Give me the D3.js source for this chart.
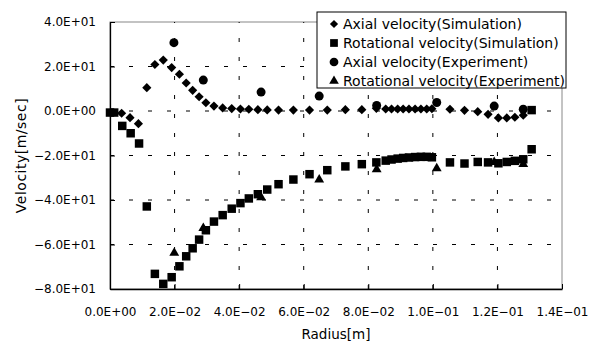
<!DOCTYPE html>
<html>
<head>
<meta charset="utf-8">
<script src="https://cdn.jsdelivr.net/npm/d3@7"></script>
<style>
  body { margin: 0; background: #fff; }
  svg { font-family: "DejaVu Sans", "Liberation Sans", Arial, sans-serif; }
</style>
</head>
<body>
<svg id="chart"></svg>
<script>
// radius [m] / velocity [m/sec]
const axialSimR = [0.0036, 0.0062, 0.0088, 0.0114, 0.0139, 0.0165, 0.0191, 0.0215, 0.0236, 0.0256,
  0.0276, 0.0297, 0.0322, 0.0349, 0.0377, 0.0404, 0.0430, 0.0458, 0.0487, 0.0522,
  0.0568, 0.0618, 0.0673, 0.0729, 0.0780, 0.0825, 0.0854, 0.0872, 0.0891, 0.0908,
  0.0926, 0.0945, 0.0963, 0.0981, 0.0997, 0.1053, 0.1098, 0.1139, 0.1171, 0.1203,
  0.1229, 0.1254, 0.1280];
const axialSimV = [-1.0, -3.0, -5.7, 10.5, 20.9, 22.9, 19.5, 16.5, 12.6, 9.3,
  6.4, 3.7, 2.2, 1.4, 1.1, 0.9, 0.8, 0.6, 0.5, 0.4,
  0.4, 0.4, 0.4, 0.6, 0.6, 1.2, 0.9, 0.9, 0.9, 0.9,
  0.9, 0.9, 0.9, 0.9, 1.0, 0.8, 0.3, -0.3, -1.5, -3.1,
  -3.1, -2.8, -1.9];

const rotSimR = [0.0, 0.0013, 0.0038, 0.0064, 0.0090, 0.0114, 0.0139, 0.0165, 0.0191, 0.0215,
  0.0236, 0.0256, 0.0276, 0.0297, 0.0322, 0.0349, 0.0377, 0.0404, 0.0430, 0.0458,
  0.0487, 0.0522, 0.0568, 0.0618, 0.0673, 0.0729, 0.0780, 0.0825, 0.0854, 0.0872,
  0.0891, 0.0908, 0.0926, 0.0945, 0.0963, 0.0981, 0.0997, 0.1053, 0.1098, 0.1139,
  0.1171, 0.1203, 0.1229, 0.1254, 0.1280, 0.1306, 0.1306];
const rotSimV = [-0.7, -0.7, -6.7, -10.0, -14.6, -42.9, -73.2, -77.7, -74.7, -69.8,
  -65.3, -61.7, -57.8, -53.6, -49.7, -46.8, -43.9, -41.4, -39.3, -37.4,
  -35.3, -32.9, -30.8, -28.4, -26.6, -24.9, -23.9, -23.1, -22.3, -21.8,
  -21.4, -21.1, -20.9, -20.7, -20.6, -20.6, -20.8, -23.1, -23.6, -22.9,
  -23.1, -23.5, -22.9, -22.4, -21.7, -17.2, 0.4];

const axialExpR = [0.0198, 0.0289, 0.0468, 0.0648, 0.0826, 0.1012, 0.1190, 0.1280];
const axialExpV = [30.7, 13.9, 8.5, 6.7, 2.5, 3.8, 2.2, 0.8];

const rotExpR = [0.0199, 0.0289, 0.0468, 0.0648, 0.0826, 0.1012, 0.1190, 0.1280];
const rotExpV = [-63.8, -52.7, -38.8, -30.9, -26.3, -25.8, -23.0, -23.9];

const seriesNames = ["Axial velocity(Simulation)", "Rotational velocity(Simulation)",
  "Axial velocity(Experiment)", "Rotational velocity(Experiment)"];

const xTicks = [0, 0.02, 0.04, 0.06, 0.08, 0.10, 0.12, 0.14];
const xTickLabels = ["0.0E+00", "2.0E\u221202", "4.0E\u221202", "6.0E\u221202", "8.0E\u221202",
  "1.0E\u221201", "1.2E\u221201", "1.4E\u221201"];
const yTicks = [40, 20, 0, -20, -40, -60, -80];
const yTickLabels = ["4.0E+01", "2.0E+01", "0.0E+00", "\u22122.0E+01", "\u22124.0E+01",
  "\u22126.0E+01", "\u22128.0E+01"];

const width = 589, height = 343;
const margin = { top: 22, right: 27, bottom: 54, left: 110 };
const innerW = width - margin.left - margin.right;
const innerH = height - margin.top - margin.bottom;
const fontFamily = '"DejaVu Sans", "Liberation Sans", Arial, sans-serif';

const svg = d3.select("#chart").attr("width", width).attr("height", height);
const chart = svg.append("g").attr("transform", `translate(${margin.left},${margin.top})`);

const xScale = d3.scaleLinear().domain([0, 0.14]).range([0, innerW]);
const yScale = d3.scaleLinear().domain([-80, 40]).range([innerH, 0]);

// plot area frame (gray top/right like Excel)
chart.append("rect")
  .attr("width", innerW).attr("height", innerH)
  .attr("fill", "none").attr("stroke", "#888").attr("stroke-width", 1);

// dashed grid
chart.append("g").selectAll("line")
  .data(yTicks.filter(d => d !== -80 && d !== 40))
  .join("line")
  .attr("x1", 0).attr("x2", innerW)
  .attr("y1", d => yScale(d)).attr("y2", d => yScale(d))
  .attr("stroke", "#000").attr("stroke-dasharray", "4,15");
chart.append("g").selectAll("line")
  .data(xTicks.filter(d => d !== 0 && d !== 0.14))
  .join("line")
  .attr("y1", innerH).attr("y2", 0)
  .attr("x1", d => xScale(d)).attr("x2", d => xScale(d))
  .attr("stroke", "#000").attr("stroke-dasharray", "4,15");

// axes, ticks inside
const xAxis = d3.axisBottom(xScale).tickValues(xTicks)
  .tickFormat((d, i) => xTickLabels[i]).tickSizeInner(-5).tickSizeOuter(0).tickPadding(18.5);
const yAxis = d3.axisLeft(yScale).tickValues(yTicks)
  .tickFormat((d, i) => yTickLabels[i]).tickSizeInner(-5).tickSizeOuter(0).tickPadding(14);

const xAxisG = chart.append("g").attr("transform", `translate(0,${innerH})`).call(xAxis);
const yAxisG = chart.append("g").call(yAxis);
[xAxisG, yAxisG].forEach(g => {
  g.attr("font-size", 12).attr("font-family", fontFamily);
  g.select(".domain").attr("stroke", "#000").attr("stroke-width", 1.3);
  g.selectAll(".tick line").attr("stroke", "#000");
  g.selectAll(".tick text").attr("fill", "#000");
});

// markers
const diamond = d3.symbol().type(d3.symbolSquare).size(42);
const square = d3.symbol().type(d3.symbolSquare).size(72);
const triangle = d3.symbol().type(d3.symbolTriangle).size(42);

chart.append("g").selectAll("path")
  .data(d3.zip(axialSimR, axialSimV))
  .join("path")
  .attr("d", diamond)
  .attr("transform", d => `translate(${xScale(d[0])},${yScale(d[1])}) rotate(45)`)
  .attr("fill", "#000");

chart.append("g").selectAll("path")
  .data(d3.zip(rotSimR, rotSimV))
  .join("path")
  .attr("d", square)
  .attr("transform", d => `translate(${xScale(d[0])},${yScale(d[1])})`)
  .attr("fill", "#000");

chart.append("g").selectAll("circle")
  .data(d3.zip(axialExpR, axialExpV))
  .join("circle")
  .attr("cx", d => xScale(d[0])).attr("cy", d => yScale(d[1]))
  .attr("r", 4.5)
  .attr("fill", "#000");

chart.append("g").selectAll("path")
  .data(d3.zip(rotExpR, rotExpV))
  .join("path")
  .attr("d", triangle)
  .attr("transform", d => `translate(${xScale(d[0])},${yScale(d[1])})`)
  .attr("fill", "#000");

// axis titles
svg.append("text")
  .attr("x", margin.left + innerW / 2).attr("y", 339)
  .attr("text-anchor", "middle").attr("font-size", "13.5px")
  .text("Radius[m]");
svg.append("text")
  .attr("transform", `translate(26,${margin.top + innerH / 2}) rotate(-90)`)
  .attr("text-anchor", "middle").attr("font-size", "14px")
  .attr("letter-spacing", "0.5px")
  .text("Velocity[m/sec]");

// legend
const legend = svg.append("g").attr("transform", "translate(317,12)");
legend.append("rect")
  .attr("width", 249).attr("height", 76)
  .attr("fill", "#fff").attr("stroke", "#000").attr("stroke-width", 1);

const legendSymbols = [
  d3.symbol().type(d3.symbolSquare).size(34),
  d3.symbol().type(d3.symbolSquare).size(60),
  d3.symbol().type(d3.symbolCircle).size(60),
  d3.symbol().type(d3.symbolTriangle).size(40)
];
const legendRows = legend.selectAll(".row")
  .data(seriesNames)
  .join("g")
  .attr("class", "row")
  .attr("transform", (d, i) => `translate(0,${12 + i * 19})`);
legendRows.append("path")
  .attr("d", (d, i) => legendSymbols[i]())
  .attr("transform", (d, i) => `translate(17,0)${i === 0 ? " rotate(45)" : ""}`)
  .attr("fill", "#000");
legendRows.append("text")
  .attr("x", 26).attr("dy", "0.35em")
  .attr("font-size", "14px")
  .text(d => d);
</script>
</body>
</html>
